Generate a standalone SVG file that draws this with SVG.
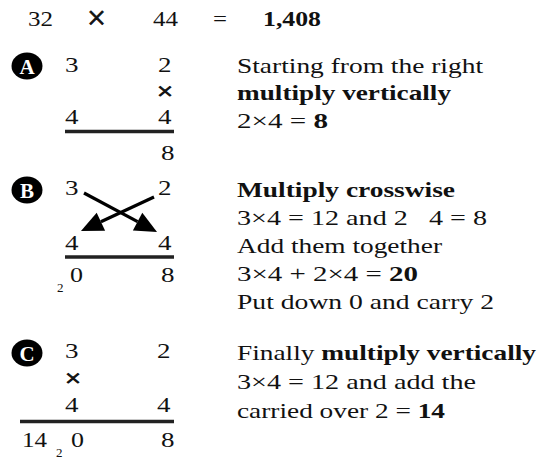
<svg xmlns="http://www.w3.org/2000/svg" width="539" height="459" viewBox="0 0 539 459" font-family="'Liberation Serif','Times New Roman',serif">
<style>
text{font-family:"Liberation Serif","Times New Roman",serif;font-size:22px;fill:#111;}
.b{font-weight:bold;}
.x{font-size:24px;stroke:#111;stroke-width:1;}
.xh{font-size:34px;stroke:#111;stroke-width:0.8;}
.sub{font-size:13px;}
.badge{fill:#000;}
.bl{fill:#fff;font-weight:bold;font-size:21px;text-anchor:middle;}
.rule{stroke:#222;stroke-width:3.5;}
.arr{stroke:#000;stroke-width:3.2;fill:none;}
</style>
<defs>
<marker id="ah" markerUnits="userSpaceOnUse" markerWidth="22" markerHeight="20" refX="0" refY="10" orient="auto" overflow="visible">
<path d="M0,0 L22,10 L0,20 z" fill="#000"/>
</marker>
</defs>
<rect width="539" height="459" fill="#fff"/>

<g id="header">
<text x="28" y="26" textLength="25" lengthAdjust="spacingAndGlyphs">32</text>
<text x="87" y="29" class="xh" textLength="19" lengthAdjust="spacingAndGlyphs">×</text>
<text x="153" y="26" textLength="25" lengthAdjust="spacingAndGlyphs">44</text>
<text x="213" y="26" textLength="14" lengthAdjust="spacingAndGlyphs" fill="#555">=</text>
<text x="263" y="26" class="b" textLength="58" lengthAdjust="spacingAndGlyphs">1,408</text>
</g>

<g id="step-a">
<ellipse class="badge" cx="27" cy="66" rx="15.5" ry="13.5"/>
<text class="bl" x="27" y="73.5">A</text>
<text x="65" y="72" textLength="13.5" lengthAdjust="spacingAndGlyphs">3</text>
<text x="158" y="72" textLength="13.5" lengthAdjust="spacingAndGlyphs">2</text>
<text x="157" y="99" class="x" textLength="16" lengthAdjust="spacingAndGlyphs">×</text>
<text x="65" y="124" textLength="13.5" lengthAdjust="spacingAndGlyphs">4</text>
<text x="158" y="124" textLength="13.5" lengthAdjust="spacingAndGlyphs">4</text>
<line class="rule" x1="65" y1="131.5" x2="174" y2="131.5"/>
<text x="161" y="160" textLength="13.5" lengthAdjust="spacingAndGlyphs">8</text>
<text x="237" y="73" textLength="246" lengthAdjust="spacingAndGlyphs">Starting from the right</text>
<text x="237" y="100" class="b" textLength="214" lengthAdjust="spacingAndGlyphs">multiply vertically</text>
<text x="237" y="128" textLength="91" lengthAdjust="spacingAndGlyphs">2×4 = <tspan class="b">8</tspan></text>
</g>

<g id="step-b">
<ellipse class="badge" cx="27" cy="190" rx="15.5" ry="13.5"/>
<text class="bl" x="27" y="197.5">B</text>
<text x="65" y="195" textLength="13.5" lengthAdjust="spacingAndGlyphs">3</text>
<text x="158" y="195" textLength="13.5" lengthAdjust="spacingAndGlyphs">2</text>
<text x="65" y="250" textLength="13.5" lengthAdjust="spacingAndGlyphs">4</text>
<text x="158" y="250" textLength="13.5" lengthAdjust="spacingAndGlyphs">4</text>
<line class="rule" x1="65" y1="257" x2="174" y2="257"/>
<text x="57" y="292" class="sub">2</text>
<text x="70" y="282" textLength="13" lengthAdjust="spacingAndGlyphs">0</text>
<text x="161" y="282" textLength="13.5" lengthAdjust="spacingAndGlyphs">8</text>
<text x="237" y="197" class="b" textLength="218" lengthAdjust="spacingAndGlyphs">Multiply crosswise</text>
<text x="237" y="225" xml:space="preserve" textLength="250" lengthAdjust="spacingAndGlyphs">3×4 = 12 and 2   4 = 8</text>
<text x="237" y="253" textLength="205" lengthAdjust="spacingAndGlyphs">Add them together</text>
<text x="237" y="281" textLength="181" lengthAdjust="spacingAndGlyphs">3×4 + 2×4 = <tspan class="b">20</tspan></text>
<text x="237" y="309" textLength="257" lengthAdjust="spacingAndGlyphs">Put down 0 and carry 2</text>
</g>

<g id="step-c">
<ellipse class="badge" cx="27" cy="353" rx="15.5" ry="13.5"/>
<text class="bl" x="27" y="360.5">C</text>
<text x="65" y="358" textLength="13.5" lengthAdjust="spacingAndGlyphs">3</text>
<text x="157" y="358" textLength="13.5" lengthAdjust="spacingAndGlyphs">2</text>
<text x="65" y="386" class="x" textLength="16" lengthAdjust="spacingAndGlyphs">×</text>
<text x="65" y="412" textLength="13.5" lengthAdjust="spacingAndGlyphs">4</text>
<text x="157" y="412" textLength="13.5" lengthAdjust="spacingAndGlyphs">4</text>
<line class="rule" x1="20" y1="421.5" x2="174" y2="421.5"/>
<text x="22" y="447" textLength="25" lengthAdjust="spacingAndGlyphs">14</text>
<text x="56" y="457" class="sub">2</text>
<text x="71" y="447" textLength="13" lengthAdjust="spacingAndGlyphs">0</text>
<text x="161" y="447" textLength="13.5" lengthAdjust="spacingAndGlyphs">8</text>
<text x="237" y="360" textLength="299" lengthAdjust="spacingAndGlyphs">Finally <tspan class="b">multiply vertically</tspan></text>
<text x="237" y="389" textLength="239" lengthAdjust="spacingAndGlyphs">3×4 = 12 and add the</text>
<text x="237" y="418" textLength="208" lengthAdjust="spacingAndGlyphs">carried over 2 = <tspan class="b">14</tspan></text>
</g>

<g id="connectors">
<line class="arr" x1="84" y1="193" x2="137.6" y2="221.6" marker-end="url(#ah)"/>
<line class="arr" x1="154" y1="197" x2="100.9" y2="221.7" marker-end="url(#ah)"/>
</g>
</svg>
